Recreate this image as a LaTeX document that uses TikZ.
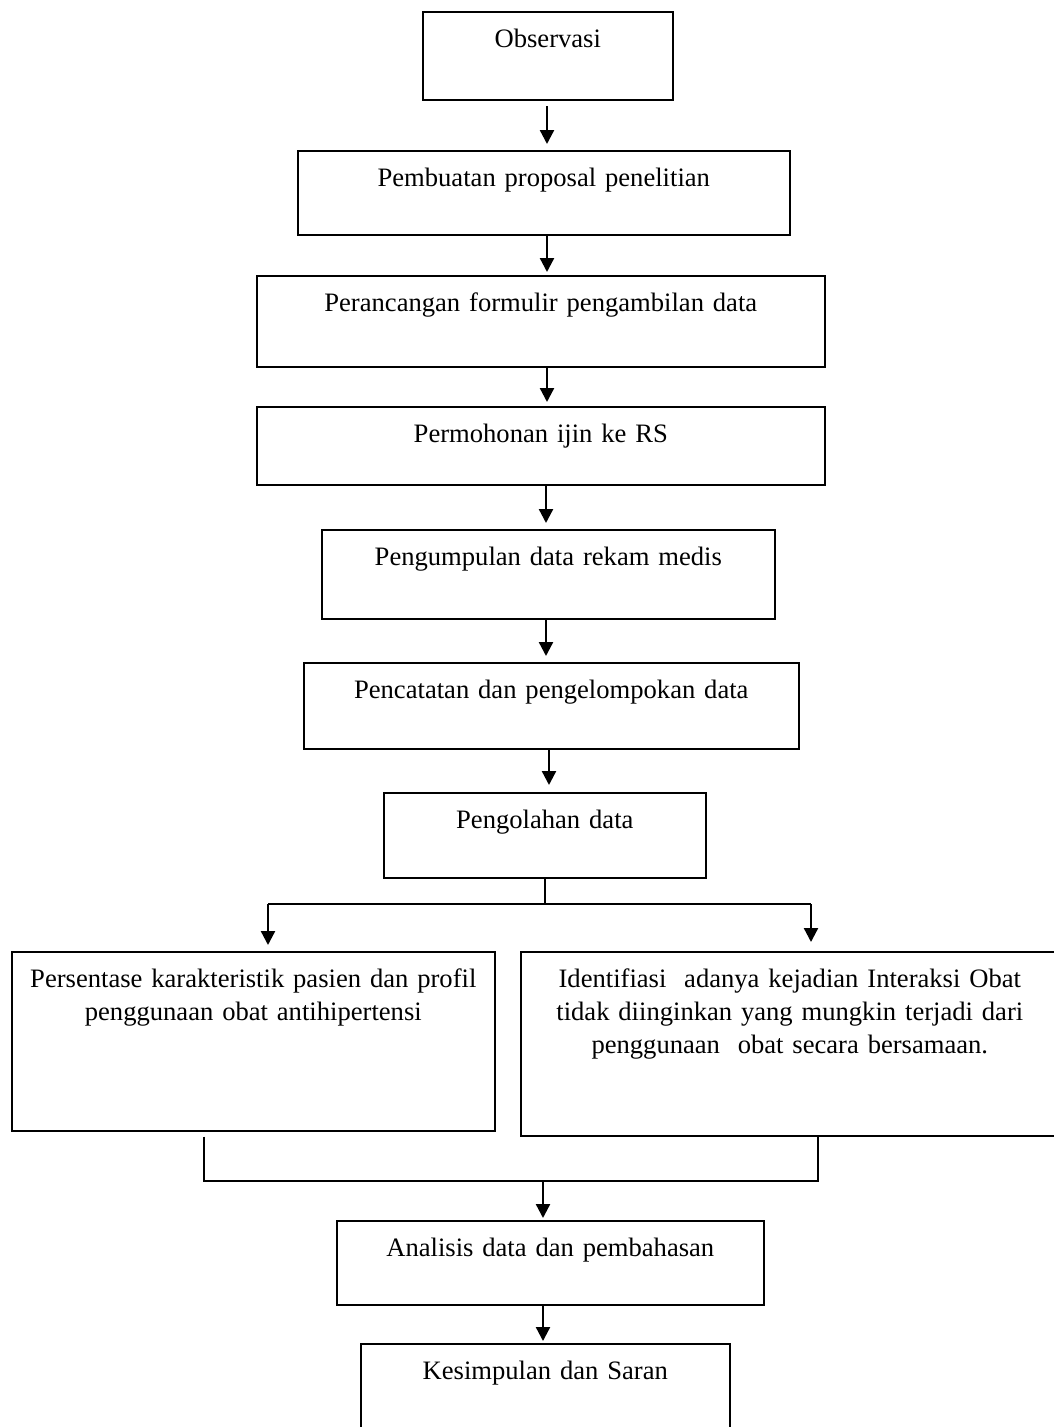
\documentclass[tikz,border=0pt]{standalone}
\usepackage{fontspec}
\setmainfont{Liberation Serif}
\usetikzlibrary{arrows.meta}
\begin{document}
\begin{tikzpicture}[x=1pt,y=-1pt,
 box/.style={draw, line width=1.6pt, inner sep=0pt, anchor=north west, align=center,
   text height=36pt, font=\fontsize{26.6}{33}\selectfont},
 arr/.style={line width=2.3pt, -{Triangle[length=14pt,width=14pt]}, shorten >=4pt},
 thinline/.style={line width=1.1pt}]
\useasboundingbox (0,0) rectangle (1054,1427);
\clip (0,0) rectangle (1054,1427);

\node[box, text width=250pt, text depth=52pt] (obs) at (422,11) {Observasi};
\node[box, text width=492pt, text depth=48pt] (prop) at (297,150) {Pembuatan proposal penelitian};
\node[box, text width=568pt, text depth=55pt] (form) at (256,275) {Perancangan formulir pengambilan data};
\node[box, text width=568pt, text depth=42pt] (ijin) at (256,406) {Permohonan ijin ke RS};
\node[box, text width=453pt, text depth=53pt] (kumpul) at (321,529) {Pengumpulan data rekam medis};
\node[box, text width=495pt, text depth=50pt] (catat) at (303,662) {Pencatatan dan pengelompokan data};
\node[box, text width=322pt, text depth=49pt] (olah) at (383,792) {Pengolahan data};
\node[box, text width=483pt, text depth=143pt] (kiri) at (11,951) {Persentase karakteristik pasien dan profil\\ penggunaan obat antihipertensi};
\node[box, text width=538pt, text depth=148pt] (kanan) at (520,951) {Identifiasi\ \ adanya kejadian Interaksi Obat\\ tidak diinginkan yang mungkin terjadi dari\\ penggunaan\ \ obat secara bersamaan.};
\node[box, text width=427pt, text depth=48pt] (anal) at (336,1220) {Analisis data dan pembahasan};
\node[box, text width=369pt, text depth=61pt] (kes) at (360,1343) {Kesimpulan dan Saran};

% main chain
\coordinate (c1) at (547,106);
\draw[arr, shorten >=6pt] (c1) -- (c1 |- prop.north);
\coordinate (c2) at (547,0);
\draw[arr, shorten >=3pt] (c2 |- prop.south) -- (c2 |- form.north);
\draw[arr] (c2 |- form.south) -- (c2 |- ijin.north);
\coordinate (c4) at (546,0);
\draw[arr, shorten >=6pt] (c4 |- ijin.south) -- (c4 |- kumpul.north);
\draw[arr, shorten >=6pt] (c4 |- kumpul.south) -- (c4 |- catat.north);
\coordinate (c6) at (549,0);
\draw[arr, shorten >=7pt] (c6 |- catat.south) -- (c6 |- olah.north);

% branch
\coordinate (bl) at (268,904);
\coordinate (bm) at (545,904);
\coordinate (br) at (811,904);
\draw[thinline] (bm |- olah.south) -- (bm);
\draw[thinline] (bl) -- (br);
\draw[arr, shorten >=6pt] (bl) -- (bl |- kiri.north);
\draw[arr, shorten >=9pt] (br) -- (br |- kanan.north);

% merge
\coordinate (ml) at (204,1181);
\coordinate (mr) at (818,1181);
\coordinate (ma) at (543,1181);
\draw[thinline, shorten <=5pt] (ml |- kiri.south) -- (ml) -- (mr) -- (mr |- kanan.south);
\draw[arr, shorten >=2pt] (ma) -- (ma |- anal.north);
\draw[arr, shorten >=2pt] (ma |- anal.south) -- (ma |- kes.north);
\end{tikzpicture}
\end{document}
